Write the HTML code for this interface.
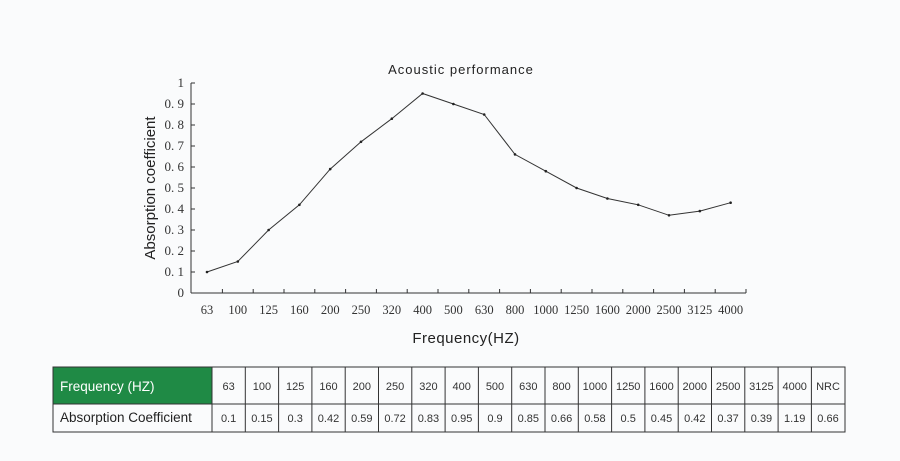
<!DOCTYPE html>
<html><head><meta charset="utf-8"><style>
html,body{margin:0;padding:0;background:#fafbfc;}
body{width:900px;height:461px;overflow:hidden;position:relative;font-family:"Liberation Sans",sans-serif;}
svg{position:absolute;left:0;top:0}
</style></head><body>
<svg width="900" height="461" viewBox="0 0 900 461" xmlns="http://www.w3.org/2000/svg">
<text x="461" y="74" font-size="13" text-anchor="middle" letter-spacing="1" fill="#222" font-family="Liberation Sans">Acoustic performance</text>
<g stroke="#333" stroke-width="1" fill="none">
<line x1="191" y1="83" x2="191" y2="293"/>
<line x1="191" y1="293" x2="746" y2="293"/>
</g>
<g stroke="#333" stroke-width="1" id="yt"></g>
<g font-family="Liberation Serif" font-size="13" fill="#333" text-anchor="end" id="yl"></g>
<g font-family="Liberation Serif" font-size="12.5" fill="#333" text-anchor="middle" id="xl"></g>
<polyline id="ln" fill="none" stroke="#333" stroke-width="1"/>
<g id="pts" fill="#222"></g>
<text transform="translate(155,188) rotate(-90)" font-size="15" text-anchor="middle" fill="#222">Absorption coefficient</text>
<text x="466" y="343" font-size="15" text-anchor="middle" fill="#222" letter-spacing="0.5">Frequency(HZ)</text>
<rect x="53" y="367" width="159" height="37" fill="#1f8a45"/>
<text x="60" y="391" font-size="13.5" fill="#fff">Frequency (HZ)</text>
<text x="60" y="422" font-size="13.5" fill="#222">Absorption Coefficient</text>
<g id="tb" stroke="#333" stroke-width="1" fill="none">
<rect x="53" y="367" width="792" height="65"/>
<line x1="53" y1="404" x2="845" y2="404"/>
</g>
<g id="tt" font-size="11" fill="#333" text-anchor="middle"></g>
</svg>
<script>
var NS="http://www.w3.org/2000/svg";
function el(p,t,a,txt){var e=document.createElementNS(NS,t);for(var k in a)e.setAttribute(k,a[k]);if(txt!=null)e.textContent=txt;document.getElementById(p).appendChild(e);}
for(var i=0;i<=10;i++){var y=293-i*21;el('yt','line',{x1:191,x2:195,y1:y,y2:y});el('yl','text',{x:184,y:y+4},i==0?'0':i==10?'1':'0. '+i);}
var f=[63,100,125,160,200,250,320,400,500,630,800,1000,1250,1600,2000,2500,3125,4000];
var v=[0.1,0.15,0.3,0.42,0.59,0.72,0.83,0.95,0.9,0.85,0.66,0.58,0.5,0.45,0.42,0.37,0.39,0.43];
var pts=[];
for(var i=0;i<f.length;i++){var x=207+i*30.8,y=293-v[i]*210;pts.push(x+','+y);
el('xl','text',{x:x,y:314},f[i]);el('pts','circle',{cx:x,cy:y,r:1.3});
el('yt','line',{x1:x+15.4,x2:x+15.4,y1:293,y2:289});}
document.getElementById('ln').setAttribute('points',pts.join(' '));
var tv=[0.1,0.15,0.3,0.42,0.59,0.72,0.83,0.95,0.9,0.85,0.66,0.58,0.5,0.45,0.42,0.37,0.39,1.19,0.66];
var hd=f.concat(['NRC']);
for(var i=0;i<19;i++){var x0=212+i*33.3;el('tb','line',{x1:x0,x2:x0,y1:367,y2:432});
el('tt','text',{x:x0+16.6,y:390},hd[i]);el('tt','text',{x:x0+16.6,y:422},tv[i]);}
</script>
</body></html>
